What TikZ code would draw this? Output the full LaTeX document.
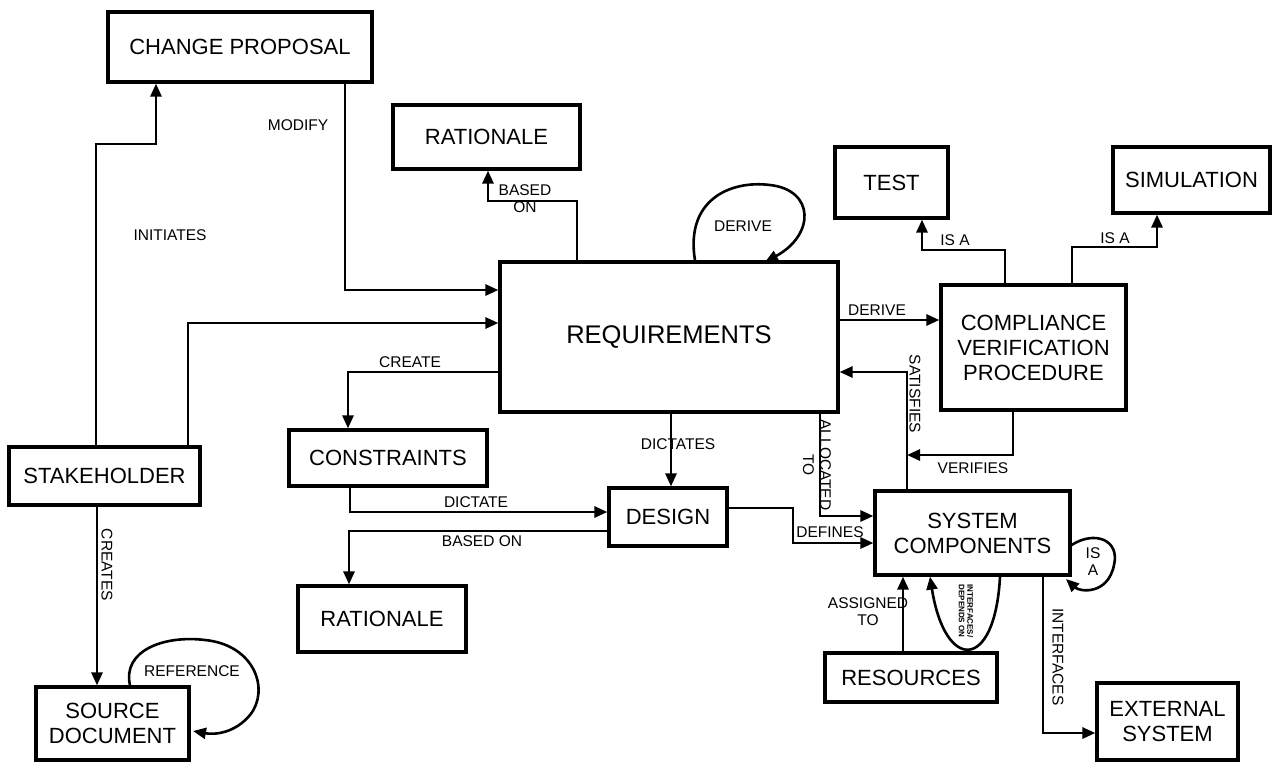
\documentclass[tikz,border=0pt]{standalone}
\usepackage{fontspec}
\setmainfont{Liberation Sans}
\usetikzlibrary{arrows.meta}

\begin{document}
\begin{tikzpicture}[
    x = 1pt, y = -1pt,
    box/.style = {
      draw, line width = 3.2pt, align = center, inner sep = 0pt,
      font = \fontsize{22}{25}\selectfont
    },
    link/.style = {
      line width = 2.8pt, -{Triangle[length = 13pt, width = 11pt]}
    },
    loop/.style = { link, line width = 2.6pt },
    lbl/.style = { align = center, inner sep = 0pt,
      font = \fontsize{15.5}{17}\selectfont },
    vlbl/.style = { lbl, rotate = -90 },
    tiny/.style = { vlbl, font = \fontsize{8}{8.5}\selectfont\bfseries }
  ]
  \useasboundingbox (0,0) rectangle (1279,764);

  \node[box, minimum width = 264, minimum height = 70] (cp) at (240,47) {CHANGE PROPOSAL};
  \node[box, minimum width = 187, minimum height = 64] (rat1) at (486.5,137) {RATIONALE};
  \node[box, minimum width = 113, minimum height = 71] (test) at (891.5,182.5) {TEST};
  \node[box, minimum width = 157, minimum height = 66] (sim) at (1191.5,180) {SIMULATION};
  \node[box, minimum width = 338, minimum height = 150,
    font = \fontsize{25.5}{28}\selectfont] (req) at (669,337) {REQUIREMENTS};
  \node[box, minimum width = 185, minimum height = 125] (cvp) at (1033.5,347.5)
    {COMPLIANCE\\VERIFICATION\\PROCEDURE};
  \node[box, minimum width = 198, minimum height = 56] (con) at (388,458) {CONSTRAINTS};
  \node[box, minimum width = 118, minimum height = 58] (des) at (668,517) {DESIGN};
  \node[box, minimum width = 195, minimum height = 84] (sc) at (972.5,533) {SYSTEM\\COMPONENTS};
  \node[box, minimum width = 191, minimum height = 58] (stk) at (104.5,476) {STAKEHOLDER};
  \node[box, minimum width = 168, minimum height = 66] (rat2) at (382,619) {RATIONALE};
  \node[box, minimum width = 172, minimum height = 49] (res) at (911,677.5) {RESOURCES};
  \node[box, minimum width = 153, minimum height = 73] (src) at (112.5,723.5) {SOURCE\\DOCUMENT};
  \node[box, minimum width = 141, minimum height = 77] (ext) at (1167.5,721.5) {EXTERNAL\\SYSTEM};

  \coordinate (satjoin) at (907,455);

  \draw[link] (96,0 |- stk.north) |- (156,144) -- (156,0 |- cp.south);
  \draw[link] (188,0 |- stk.north) |- (req.west |- 0,323);
  \draw[link] (345,0 |- cp.south) |- (req.west |- 0,290);
  \draw[link] (577,0 |- req.north) |- (488,201) -- (488,0 |- rat1.south);
  \draw[loop] (695,0 |- req.north) .. controls (685,200) and (730,180) .. (770,185)
    .. controls (815,190) and (815,235) .. (765,262);
  \draw[link] (req.east |- 0,320) -- (cvp.west |- 0,320);
  \draw[link] (1005,0 |- cvp.north) |- (922,250) -- (922,0 |- test.south);
  \draw[link] (1072,0 |- cvp.north) |- (1157,247) -- (1157,0 |- sim.south);
  \draw[link] (req.west |- 0,372) -| (348,0 |- con.north);
  \draw[link] (671,0 |- req.south) -- (671,0 |- des.north);
  \draw[link] (350,0 |- con.south) |- (des.west |- 0,512);
  \draw[link] (des.west |- 0,531) -| (349,0 |- rat2.north);
  \draw[link] (des.east |- 0,508) -| (793,543) -- (sc.west |- 0,543);
  \draw[link] (820,0 |- req.south) |- (sc.west |- 0,516);
  \draw[link] (907,0 |- sc.north) |- (req.east |- 0,372);
  \draw[link] (1013,0 |- cvp.south) |- (satjoin);
  \draw[loop] (sc.east |- 0,545) .. controls (1095,530) and (1120,540) .. (1114,565)
    .. controls (1108,595) and (1080,592) .. (1066,579);
  \draw[link] (1043,0 |- sc.south) |- (ext.west |- 0,733);
  \draw[link] (903,0 |- res.north) -- (903,0 |- sc.south);
  \draw[loop] (1000,0 |- sc.south) .. controls (995,672) and (945,672) .. (930,0 |- sc.south);
  \draw[link] (97,0 |- stk.south) -- (97,0 |- src.north);
  \draw[loop] (130,0 |- src.north) .. controls (122,650) and (165,635) .. (205,640)
    .. controls (255,645) and (270,690) .. (250,715)
    .. controls (235,733) and (215,735) .. (193,731);

  \node[lbl] (l-init) at (170,235) {INITIATES};
  \node[lbl] (l-mod) at (298,125) {MODIFY};
  \node[lbl] (l-bas1) at (525,199) {BASED\\ON};
  \node[lbl] (l-der1) at (743,226) {DERIVE};
  \node[lbl] (l-der2) at (877,310) {DERIVE};
  \node[lbl] (l-isa1) at (955,240) {IS A};
  \node[lbl] (l-isa2) at (1115,238) {IS A};
  \node[lbl] (l-cre) at (410,362) {CREATE};
  \node[lbl] (l-dics) at (678,444) {DICTATES};
  \node[lbl] (l-dic) at (476,502) {DICTATE};
  \node[lbl] (l-bas2) at (482,541) {BASED ON};
  \node[lbl] (l-def) at (830,532) {DEFINES};
  \node[vlbl] (l-all) at (817,465) {ALLOCATED\\TO};
  \node[vlbl] (l-sat) at (915,394) {SATISFIES};
  \node[lbl] (l-ver) at (973,468) {VERIFIES};
  \node[lbl] (l-isa3) at (1093,562) {IS\\A};
  \node[vlbl] (l-int) at (1058,657) {INTERFACES};
  \node[lbl] (l-asg) at (868,612) {ASSIGNED\\TO};
  \node[tiny] (l-dep) at (966,611) {INTERFACES/\\DEPENDS ON};
  \node[vlbl] (l-cres) at (107,565) {CREATES};
  \node[lbl] (l-ref) at (192,671) {REFERENCE};
\end{tikzpicture}
\end{document}
